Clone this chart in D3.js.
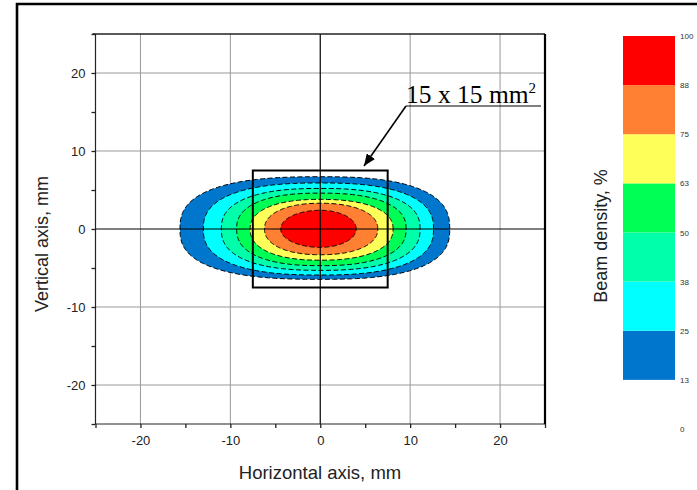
<!DOCTYPE html>
<html><head><meta charset="utf-8">
<script src="https://cdn.jsdelivr.net/npm/d3@7"></script>
<style>body{margin:0;background:#fff;} svg{display:block;}</style>
</head><body>
<svg id="c" width="697" height="490"></svg>
<script>
// ---- data ----
const levels   = [13, 25, 38, 50, 63, 75, 88];           // contour levels, %
const xLeft    = [-15.6, -13.0, -11.0, -9.3, -7.8, -6.2, -4.4]; // mm, left crossing on y=0
const xRight   = [14.4, 12.6, 11.1, 9.55, 8.1, 6.4, 4.0];     // mm, right crossing on y=0
const yTop     = [6.7, 5.9, 5.2, 4.6, 3.8, 3.3, 2.4];         // mm, top crossing on x=0
const yBottom  = [-6.45, -5.9, -5.3, -4.7, -4.0, -3.3, -2.35]; // mm, bottom crossing
const squareness = [2.6, 2.5, 2.45, 2.4, 2.3, 2.2, 2.0];       // superellipse exponent of each contour
const bandColors = ["#0077CC", "#00FFFF", "#00FFAA", "#00FF55", "#FFFF59", "#FF8033", "#FF0000"];
const cbTicks  = [0, 12.5, 25, 37.5, 50, 62.5, 75, 87.5, 100];
const cbLabels = ["0", "13", "25", "38", "50", "63", "75", "88", "100"];
const majorTicks = [-20, -10, 0, 10, 20];
const minorTicks = [-25, -15, -5, 5, 15, 25];
const boxHalf = 7.5; // 15 x 15 mm box

const svg = d3.select("#c");
const x = d3.scaleLinear().domain([-25, 25]).range([95.5, 545]);
const y = d3.scaleLinear().domain([-25, 25]).range([424, 34]);
const font = "Liberation Sans, Arial, sans-serif";

// outer frame
svg.append("path").attr("d", "M17,490 V4 H697").attr("fill", "none")
  .attr("stroke", "#000").attr("stroke-width", 2.6);

// grid
const grid = svg.append("g").attr("stroke", "#999").attr("stroke-width", 1);
majorTicks.filter(d => d !== 0).forEach(d => {
  grid.append("line").attr("x1", x(d)).attr("x2", x(d)).attr("y1", y(25)).attr("y2", y(-25));
  grid.append("line").attr("y1", y(d)).attr("y2", y(d)).attr("x1", x(-25)).attr("x2", x(25));
});

// contours
function shapePath(i) {
  const n = squareness[i], pts = [];
  for (let k = 0; k < 360; k++) {
    const t = k / 360 * 2 * Math.PI, c = Math.cos(t), s = Math.sin(t);
    const px = Math.sign(c) * Math.pow(Math.abs(c), 2 / n) * (c >= 0 ? xRight[i] : -xLeft[i]);
    const py = Math.sign(s) * Math.pow(Math.abs(s), 2 / n) * (s >= 0 ? yTop[i] : -yBottom[i]);
    pts.push([x(px), y(py)]);
  }
  return d3.line().curve(d3.curveLinearClosed)(pts);
}
const cg = svg.append("g");
levels.forEach((lv, i) => {
  cg.append("path").attr("d", shapePath(i)).attr("fill", bandColors[i]);
});
levels.forEach((lv, i) => {
  cg.append("path").attr("d", shapePath(i)).attr("fill", "none")
    .attr("stroke", "#000").attr("stroke-width", 1).attr("stroke-dasharray", "5,2.5");
});

// zero lines
svg.append("line").attr("x1", x(0)).attr("x2", x(0)).attr("y1", y(25)).attr("y2", y(-25))
  .attr("stroke", "#000").attr("stroke-width", 1.2);
svg.append("line").attr("y1", y(0)).attr("y2", y(0)).attr("x1", x(-25)).attr("x2", x(25))
  .attr("stroke", "#000").attr("stroke-width", 1.2);

// 15x15 box
svg.append("rect").attr("x", x(-boxHalf)).attr("y", y(boxHalf))
  .attr("width", x(boxHalf) - x(-boxHalf)).attr("height", y(-boxHalf) - y(boxHalf))
  .attr("fill", "none").attr("stroke", "#000").attr("stroke-width", 2);

// axes
const fmt = d => String(d);
const xAxis = svg.append("g").attr("transform", `translate(0,${y(-25)})`)
  .call(d3.axisBottom(x).tickValues(majorTicks).tickSize(4).tickPadding(8).tickFormat(fmt));
svg.append("g").attr("transform", `translate(0,${y(-25)})`)
  .call(d3.axisBottom(x).tickValues(minorTicks).tickSize(4).tickFormat(""))
  .select(".domain").remove();
const yAxis = svg.append("g").attr("transform", `translate(${x(-25)},0)`)
  .call(d3.axisLeft(y).tickValues(majorTicks).tickSize(4).tickPadding(6).tickFormat(fmt));
svg.append("g").attr("transform", `translate(${x(-25)},0)`)
  .call(d3.axisLeft(y).tickValues(minorTicks).tickSize(4).tickFormat(""))
  .select(".domain").remove();
svg.selectAll(".domain").attr("stroke", "#222").attr("stroke-width", 1.2);
svg.selectAll(".tick line").attr("stroke", "#222").attr("stroke-width", 1.3);
svg.selectAll(".tick text").attr("font-family", font).attr("font-size", 13).attr("fill", "#222");
xAxis.select(".domain").attr("d", `M${x(-25)},0H${x(25)}`);
yAxis.select(".domain").attr("d", `M0,${y(-25)}V${y(25)}`);
// top and right axis lines
svg.append("line").attr("x1", x(-25) - 3).attr("x2", x(25)).attr("y1", y(25)).attr("y2", y(25))
  .attr("stroke", "#222").attr("stroke-width", 1.4);
svg.append("line").attr("x1", x(25)).attr("x2", x(25)).attr("y1", y(25)).attr("y2", y(-25))
  .attr("stroke", "#000").attr("stroke-width", 2.2);

// axis titles
svg.append("text").attr("x", 320).attr("y", 479).attr("text-anchor", "middle")
  .attr("font-family", font).attr("font-size", 18.5).attr("fill", "#222").text("Horizontal axis, mm");
svg.append("text").attr("transform", "translate(48,244) rotate(-90)").attr("text-anchor", "middle")
  .attr("font-family", font).attr("font-size", 18).attr("fill", "#222").text("Vertical axis, mm");

// annotation
const ann = svg.append("g");
ann.append("text").attr("x", 406).attr("y", 103).attr("font-family", "Liberation Serif, Times New Roman, serif")
  .attr("font-size", 25.5).attr("fill", "#000").text("15 x 15 mm")
  .append("tspan").attr("font-size", 15).attr("dy", -10).text("2");
ann.append("line").attr("x1", 406).attr("x2", 541).attr("y1", 106).attr("y2", 106)
  .attr("stroke", "#000").attr("stroke-width", 1.2);
svg.append("defs").append("marker").attr("id", "ah").attr("viewBox", "0 0 10 10")
  .attr("refX", 10).attr("refY", 5).attr("markerWidth", 12).attr("markerHeight", 10)
  .attr("markerUnits", "userSpaceOnUse").attr("orient", "auto").attr("preserveAspectRatio", "none")
  .append("path").attr("d", "M0,0 L10,5 L0,10 Z").attr("fill", "#000");
ann.append("line").attr("x1", 406).attr("y1", 106).attr("x2", 364).attr("y2", 166)
  .attr("stroke", "#000").attr("stroke-width", 1.6).attr("marker-end", "url(#ah)");

// colorbar
const cb = d3.scaleLinear().domain([0, 100]).range([429, 36]);
const cbg = svg.append("g");
levels.forEach((lv, i) => {
  const lo = cbTicks[i + 1], hi = cbTicks[i + 2];
  cbg.append("rect").attr("x", 623).attr("width", 52)
    .attr("y", cb(hi)).attr("height", cb(lo) - cb(hi)).attr("fill", bandColors[i]);
});
cbTicks.forEach((t, i) => {
  cbg.append("text").attr("x", 680).attr("y", cb(t) + 3).attr("font-family", font)
    .attr("font-size", 8).attr("fill", "#333").text(cbLabels[i]);
});
svg.append("text").attr("transform", "translate(607,236) rotate(-90)").attr("text-anchor", "middle")
  .attr("font-family", font).attr("font-size", 18).attr("fill", "#222").text("Beam density, %");
</script>
</body></html>
